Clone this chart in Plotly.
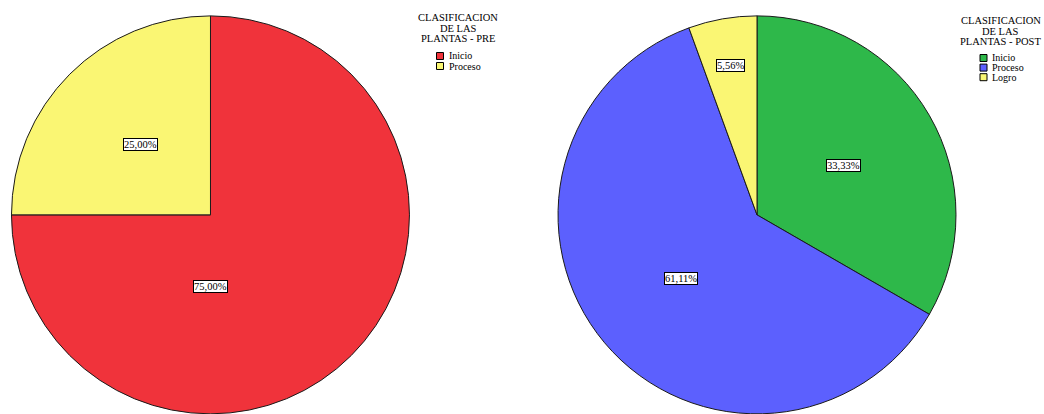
import math
import plotly.graph_objects as go

# Plant classification, before and after
categories_pre = ["Inicio", "Proceso"]
values_pre = [75.00, 25.00]

categories_post = ["Inicio", "Proceso", "Logro"]
values_post = [33.33, 61.11, 5.56]

title_pre = ["CLASIFICACION", "DE LAS", "PLANTAS - PRE"]
title_post = ["CLASIFICACION", "DE LAS", "PLANTAS - POST"]

W, H = 1044, 414
SERIF = "Liberation Serif"

colors_pre = ["#F0333B", "#FAF673"]
colors_post = ["#2EB84A", "#5C60FE", "#FAF673"]

dom_pre = dict(x=[0.0110, 0.3922], y=[0.0, 0.962])
dom_post = dict(x=[0.5345, 0.9157], y=[0.0, 0.962])

fig = go.Figure()

for cats, vals, cols, dom in [
    (categories_pre, values_pre, colors_pre, dom_pre),
    (categories_post, values_post, colors_post, dom_post),
]:
    fig.add_trace(go.Pie(
        labels=cats, values=vals, sort=False,
        direction="clockwise", rotation=0, textinfo="none",
        marker=dict(colors=cols, line=dict(color="#1a1a1a", width=1)),
        domain=dom, showlegend=False, hoverinfo="label+percent",
    ))


def pie_labels(values, dom, nudge=None):
    """Boxed percentage labels placed along each slice's bisector."""
    nudge = nudge or {}
    cx = (dom["x"][0] + dom["x"][1]) / 2 * W
    cy = (dom["y"][0] + dom["y"][1]) / 2 * H
    r = min((dom["x"][1] - dom["x"][0]) * W, (dom["y"][1] - dom["y"][0]) * H) / 2
    total = sum(values)
    start = 0.0
    out = []
    for i, v in enumerate(values):
        span = 360.0 * v / total
        theta = start + span / 2
        frac = 0.5 if v / total >= 0.1 else 0.76
        if i in nudge:
            theta, frac = nudge[i]
        t = math.radians(theta)
        x = cx + frac * r * math.sin(t)
        y = cy + frac * r * math.cos(t)
        out.append(dict(
            x=x / W, y=y / H, xref="paper", yref="paper",
            xanchor="center", yanchor="middle",
            text=f"{v:.2f}".replace(".", ",") + "%", showarrow=False,
            font=dict(family=SERIF, size=10.5, color="black"),
            bgcolor="white", bordercolor="black", borderwidth=1, borderpad=0,
        ))
        start += span
    return out


def legend_block(title_lines, cats, cols, title_cx, title_top, sq_x, item_top, step):
    """Hand-drawn legend: centred title lines plus swatch rows (pixel units)."""
    anns, shapes = [], []
    for k, line in enumerate(title_lines):
        anns.append(dict(
            x=title_cx / W, y=1 - (title_top + 10.5 * k) / H,
            xref="paper", yref="paper", xanchor="center", yanchor="middle",
            text=line, showarrow=False,
            font=dict(family=SERIF, size=10.5, color="black"),
        ))
    for k, (c, col) in enumerate(zip(cats, cols)):
        yc = item_top + step * k
        shapes.append(dict(
            type="rect", xref="paper", yref="paper",
            x0=sq_x / W, x1=(sq_x + 7) / W,
            y0=1 - (yc - 3.5) / H, y1=1 - (yc + 3.5) / H,
            fillcolor=col, line=dict(color="black", width=1),
        ))
        anns.append(dict(
            x=(sq_x + 10) / W, y=1 - yc / H,
            xref="paper", yref="paper", xanchor="left", yanchor="middle",
            text=c, showarrow=False,
            font=dict(family=SERIF, size=10, color="black"),
        ))
    return anns, shapes


annotations = pie_labels(values_pre, dom_pre, nudge={0: (180.0, 0.36)})
annotations += pie_labels(values_post, dom_post)

a1, s1 = legend_block(title_pre, categories_pre, colors_pre, 458, 18, 436.5, 56, 10)
a2, s2 = legend_block(title_post, categories_post, colors_post, 1000.5, 20.5, 980, 58, 9.6)

fig.update_layout(
    width=W, height=H,
    margin=dict(l=0, r=0, t=0, b=0),
    paper_bgcolor="white", plot_bgcolor="white",
    annotations=annotations + a1 + a2,
    shapes=s1 + s2,
    showlegend=False,
)

fig.write_html("out.html")
